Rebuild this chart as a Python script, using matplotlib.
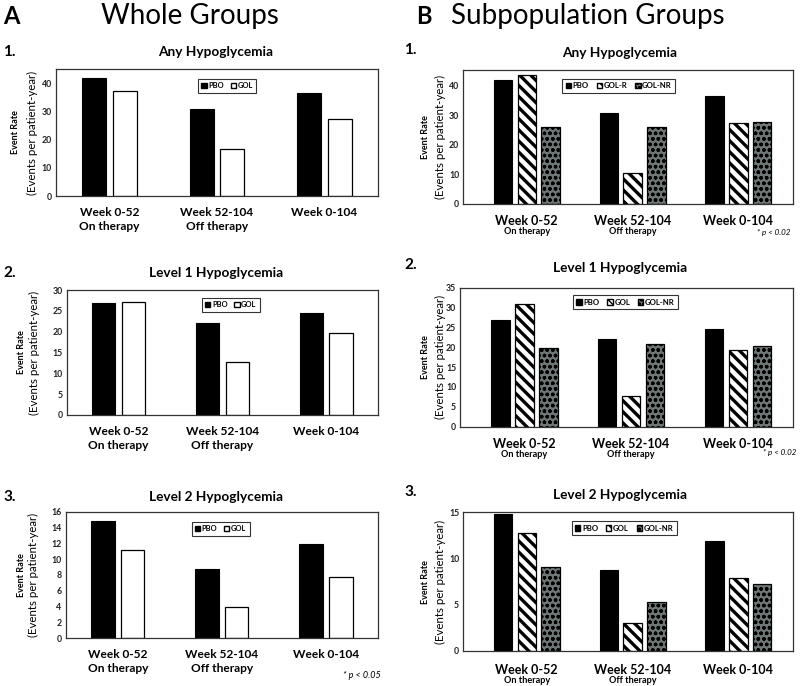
import matplotlib
matplotlib.use("Agg")
import matplotlib.pyplot as plt
from matplotlib.patches import Patch

plt.rcParams['font.family'] = ['Lato', 'DejaVu Sans']

# ---- data ----
weeks = ["Week 0-52", "Week 52-104", "Week 0-104"]
phase = ["On therapy", "Off therapy", ""]

# A: whole groups
any_pbo = [41.7, 31.0, 36.5]
any_gol = [37.3, 16.8, 27.3]
l1_pbo = [27.0, 22.1, 24.6]
l1_gol = [27.1, 12.7, 19.7]
l2_pbo = [14.8, 8.8, 11.9]
l2_gol = [11.2, 4.0, 7.7]

# B: subpopulation groups
sub_any_pbo = [41.9, 30.8, 36.5]
sub_any_golr = [43.7, 10.4, 27.3]
sub_any_golnr = [26.1, 26.1, 27.6]
sub_l1_pbo = [26.9, 22.1, 24.5]
sub_l1_gol = [30.8, 7.7, 19.3]
sub_l1_golnr = [19.7, 20.7, 20.2]
sub_l2_pbo = [14.8, 8.8, 11.9]
sub_l2_gol = [12.8, 3.0, 7.9]
sub_l2_golnr = [9.05, 5.3, 7.25]

W, H = 800, 686
fig = plt.figure(figsize=(8, 6.86), dpi=100)


def px_axes(l, r, t, b):
    return fig.add_axes([l / W, 1 - b / H, (r - l) / W, (b - t) / H])


def fig_text(x, y, s, **kw):
    fig.text(x / W, 1 - y / H, s, **kw)


def style_axes(ax, ymax, step, yticks_max):
    ax.set_ylim(0, ymax)
    ax.set_yticks(range(0, yticks_max + 1, step))
    for sp in ax.spines.values():
        sp.set_color('#333333')
        sp.set_linewidth(0.9)
    ax.tick_params(axis='y', length=0, labelsize=6.3, pad=3)
    ax.tick_params(axis='x', length=0)
    for t in ax.get_yticklabels():
        t.set_fontweight('bold')
        t.set_color('#222222')


def ylabel(t, b, xb, xp):
    yc = (t + b) / 2
    fig_text(xb, yc, "Event Rate", rotation=90, ha='center', va='center',
             fontsize=6.5, fontweight='bold')
    fig_text(xp, yc, "(Events per patient-year)", rotation=90, ha='center',
             va='center', fontsize=8.3)


def whole_panel(box, pbo, gol, ymax, step, ytmax, leg_xy):
    ax = px_axes(*box)
    x = range(len(weeks))
    ax.bar([i - 0.143 for i in x], pbo, 0.225, color='black', edgecolor='black',
           linewidth=0.8)
    ax.bar([i + 0.143 for i in x], gol, 0.225, color='white', edgecolor='black',
           linewidth=0.9)
    ax.set_xlim(-0.5, 2.5)
    labels = [w + ("\n" + p if p else "") for w, p in zip(weeks, phase)]
    ax.set_xticks(list(x), labels, fontsize=8.6, fontweight='bold',
                  linespacing=1.3)
    ax.tick_params(axis='x', pad=8)
    style_axes(ax, ymax, step, ytmax)
    handles = [Patch(facecolor='black', edgecolor='black', label='PBO'),
               Patch(facecolor='white', edgecolor='black', label='GOL')]
    leg = ax.legend(handles=handles, loc='upper left', bbox_to_anchor=leg_xy,
                    borderaxespad=0, ncol=2, fontsize=5.4, frameon=True,
                    fancybox=False, handlelength=0.7, handleheight=0.7,
                    handletextpad=0.2, columnspacing=0.9, borderpad=0.45)
    leg.get_frame().set_edgecolor('black')
    leg.get_frame().set_linewidth(0.8)
    for t in leg.get_texts():
        t.set_fontweight('bold')
    return ax


def sub_panel(box, pbo, gol, nr, names, ymax, step, ytmax, leg_xy, pad=8):
    ax = px_axes(*box)
    x = list(range(len(weeks)))
    ax.bar([i - 0.225 for i in x], pbo, 0.174, color='black', edgecolor='black',
           linewidth=0.8)
    with plt.rc_context({'hatch.linewidth': 2.4}):
        ax.bar(x, gol, 0.174, color='white', edgecolor='black', hatch='\\\\\\',
               linewidth=0.9)
    with plt.rc_context({'hatch.linewidth': 1.0}):
        ax.bar([i + 0.225 for i in x], nr, 0.174, color='#6e7776',
               edgecolor='black', hatch='ooo', linewidth=0.9)
    ax.set_xlim(-0.6, 2.52)
    ax.set_xticks(x, weeks, fontsize=9, fontweight='bold')
    ax.tick_params(axis='x', pad=pad)
    for i, p in enumerate(phase):
        if p:
            ax.annotate(p, xy=(i, 0), xycoords=('data', 'axes fraction'),
                        xytext=(0, -(pad + 8.7)), textcoords='offset points',
                        ha='center', va='top', fontsize=6.6, fontweight='bold')
    style_axes(ax, ymax, step, ytmax)
    handles = [Patch(facecolor='black', edgecolor='black', label=names[0]),
               Patch(facecolor='white', edgecolor='black', hatch='\\\\\\\\',
                     label=names[1]),
               Patch(facecolor='#6e7776', edgecolor='black', hatch='oooo',
                     label=names[2])]
    leg = ax.legend(handles=handles, loc='upper left', bbox_to_anchor=leg_xy,
                    borderaxespad=0, ncol=3, fontsize=5.6, frameon=True,
                    fancybox=False, handlelength=0.7, handleheight=0.7,
                    handletextpad=0.2, columnspacing=1.0, borderpad=0.45)
    leg.get_frame().set_edgecolor('black')
    leg.get_frame().set_linewidth(0.8)
    for t in leg.get_texts():
        t.set_fontweight('bold')
    return ax


# ---- column A ----
whole_panel((56, 378, 69, 196), any_pbo, any_gol, 45, 10, 40, (0.441, 0.921))
whole_panel((66.7, 378, 290, 415), l1_pbo, l1_gol, 30, 5, 30, (0.434, 0.936))
whole_panel((65.7, 378, 511.7, 638.3), l2_pbo, l2_gol, 16, 2, 16, (0.403, 0.919))

# ---- column B ----
sub_panel((463.3, 793.3, 69.7, 203.7), sub_any_pbo, sub_any_golr, sub_any_golnr,
          ['PBO', 'GOL-R', 'GOL-NR'], 45.5, 10, 40, (0.30, 0.933))
sub_panel((460.3, 793.3, 287.7, 426.7), sub_l1_pbo, sub_l1_gol, sub_l1_golnr,
          ['PBO', 'GOL', 'GOL-NR'], 35, 5, 35, (0.338, 0.947))
sub_panel((463.3, 793.3, 512.3, 651), sub_l2_pbo, sub_l2_gol, sub_l2_golnr,
          ['PBO', 'GOL', 'GOL-NR'], 15, 5, 15, (0.328, 0.937), pad=9.5)

# y labels
ylabel(69, 196, 15, 32)
ylabel(290, 415, 21, 34)
ylabel(511.7, 638.3, 21, 33)
ylabel(69.7, 203.7, 425, 440)
ylabel(287.7, 426.7, 425, 440)
ylabel(512.3, 651, 425, 440)

# headings
fig_text(3, 16, "A", fontsize=17, fontweight='bold', va='center', ha='left')
fig_text(190, 16, "Whole Groups", fontsize=20, va='center', ha='center')
fig_text(416, 16, "B", fontsize=17, fontweight='bold', va='center', ha='left')
fig_text(588, 16, "Subpopulation Groups", fontsize=20, va='center', ha='center')

# panel titles
for x, y, num, title in [(3, 52, "1.", "Any Hypoglycemia"),
                         (3, 273, "2.", "Level 1 Hypoglycemia"),
                         (3, 497, "3.", "Level 2 Hypoglycemia")]:
    fig_text(x, y, num, fontsize=11, fontweight='bold', va='center', ha='left')
    fig_text(216, y, title, fontsize=9.8, fontweight='bold', va='center',
             ha='center')
for x, y, num, title in [(404, 50, "1.", "Any Hypoglycemia"),
                         (404, 265, "2.", "Level 1 Hypoglycemia"),
                         (404, 492, "3.", "Level 2 Hypoglycemia")]:
    fig_text(x, y, num, fontsize=11, fontweight='bold', va='center', ha='left')
    fig_text(620, y + 3, title, fontsize=9.8, fontweight='bold', va='center',
             ha='center')

# significance notes
fig_text(790, 233, "* p < 0.02", fontsize=5.8, style='italic', ha='right',
         va='center')
fig_text(796, 452, "* p < 0.02", fontsize=5.8, style='italic', ha='right',
         va='center')
fig_text(381, 675, "* p < 0.05", fontsize=6.5, style='italic', ha='right',
         va='center')

fig.savefig("out.png", dpi=100)
